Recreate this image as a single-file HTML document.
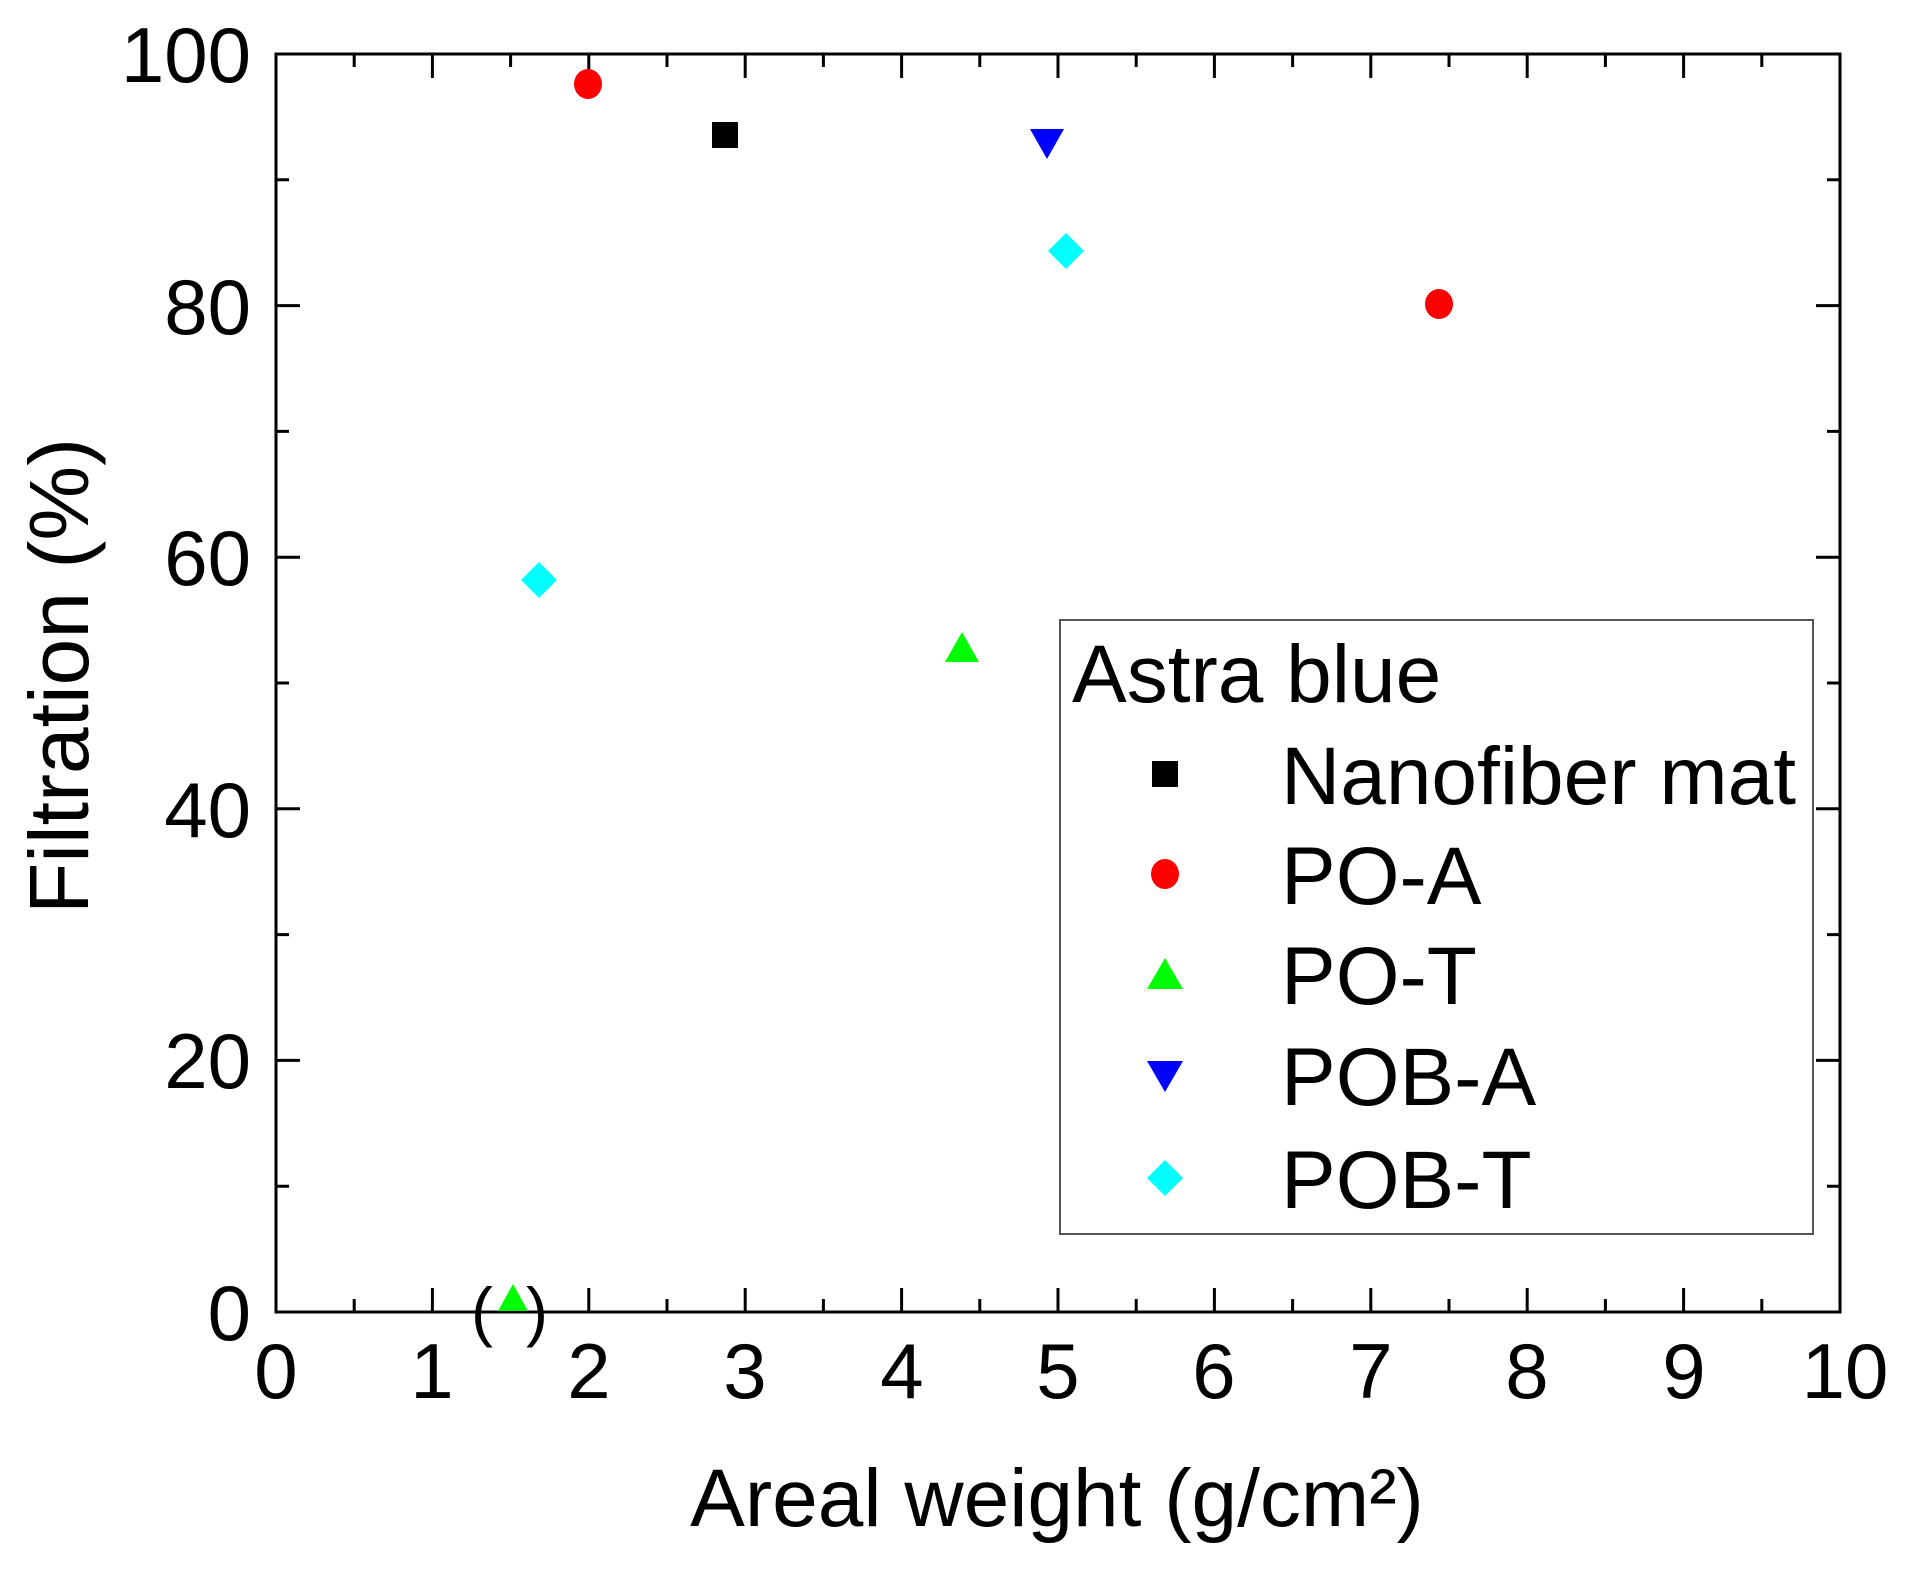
<!DOCTYPE html>
<html><head><style>body{margin:0;background:#fff}svg{display:block}</style></head><body>
<svg width="1905" height="1569" xmlns="http://www.w3.org/2000/svg" font-family="Liberation Sans, Arial, sans-serif">
<rect width="1905" height="1569" fill="#fff"/>
<g stroke="#000" stroke-width="3">
<rect x="276" y="54" width="1564" height="1258" fill="none"/>
</g>
<g stroke="#000" stroke-width="3">
<path d="M276 1312v-24M432.4 1312v-24M588.8 1312v-24M745.2 1312v-24M901.6 1312v-24M1058 1312v-24M1214.4 1312v-24M1370.8 1312v-24M1527.2 1312v-24M1683.6 1312v-24
M354.2 1312v-13M510.6 1312v-13M667 1312v-13M823.4 1312v-13M979.8 1312v-13M1136.2 1312v-13M1292.6 1312v-13M1449 1312v-13M1605.4 1312v-13M1761.8 1312v-13
M432.4 54v24M588.8 54v24M745.2 54v24M901.6 54v24M1058 54v24M1214.4 54v24M1370.8 54v24M1527.2 54v24M1683.6 54v24
M354.2 54v13M510.6 54v13M667 54v13M823.4 54v13M979.8 54v13M1136.2 54v13M1292.6 54v13M1449 54v13M1605.4 54v13M1761.8 54v13"/>
<path d="M276 1060.4h24M276 808.8h24M276 557.2h24M276 305.6h24
M276 1186.2h13M276 934.6h13M276 683h13M276 431.4h13M276 179.8h13
M1840 1060.4h-24M1840 808.8h-24M1840 557.2h-24M1840 305.6h-24
M1840 1186.2h-13M1840 934.6h-13M1840 683h-13M1840 431.4h-13M1840 179.8h-13"/>
</g>
<g font-size="78" fill="#000" text-anchor="end">
<text x="251" y="1340">0</text>
<text x="251" y="1088">20</text>
<text x="251" y="837">40</text>
<text x="251" y="585">60</text>
<text x="251" y="334">80</text>
<text x="251" y="82">100</text>
</g>
<g font-size="78" fill="#000" text-anchor="middle">
<text x="276" y="1398">0</text>
<text x="432" y="1398">1</text>
<text x="589" y="1398">2</text>
<text x="745" y="1398">3</text>
<text x="902" y="1398">4</text>
<text x="1058" y="1398">5</text>
<text x="1214" y="1398">6</text>
<text x="1371" y="1398">7</text>
<text x="1527" y="1398">8</text>
<text x="1684" y="1398">9</text>
<text x="1845" y="1398">10</text>
</g>
<text x="1057" y="1526" font-size="82" text-anchor="middle">Areal weight (g/cm²)</text>
<text transform="translate(88,676) rotate(-90)" font-size="84" text-anchor="middle">Filtration (%)</text>
<rect x="712" y="122" width="26" height="26" fill="#000"/>
<ellipse cx="588" cy="84" rx="14" ry="15" fill="#f00"/>
<ellipse cx="1439" cy="304" rx="14" ry="15" fill="#f00"/>
<path d="M1030 129h34l-17 30z" fill="#00f"/>
<path d="M1066 233l18 18l-18 18l-18-18z" fill="#0ff"/>
<path d="M539 562l18 18l-18 18l-18-18z" fill="#0ff"/>
<path d="M962 632l17 30h-34z" fill="#0f0"/>
<path d="M513 1284l15 27h-30z" fill="#0f0"/>
<text x="482" y="1334" font-size="66" text-anchor="middle">(</text>
<text x="537" y="1334" font-size="66" text-anchor="middle">)</text>
<rect x="1060" y="620" width="753" height="614" fill="#fff" stroke="#555" stroke-width="2"/>
<text x="1072" y="702" font-size="82">Astra blue</text>
<rect x="1152" y="761" width="26" height="26" fill="#000"/>
<ellipse cx="1165" cy="874" rx="14" ry="15" fill="#f00"/>
<path d="M1165 958l18 31h-36z" fill="#0f0"/>
<path d="M1147 1061h36l-18 31z" fill="#00f"/>
<path d="M1165 1160l18 18l-18 18l-18-18z" fill="#0ff"/>
<g font-size="82">
<text x="1281" y="804">Nanofiber mat</text>
<text x="1281" y="904">PO-A</text>
<text x="1281" y="1004">PO-T</text>
<text x="1281" y="1105">POB-A</text>
<text x="1281" y="1208">POB-T</text>
</g>
</svg>
</body></html>
